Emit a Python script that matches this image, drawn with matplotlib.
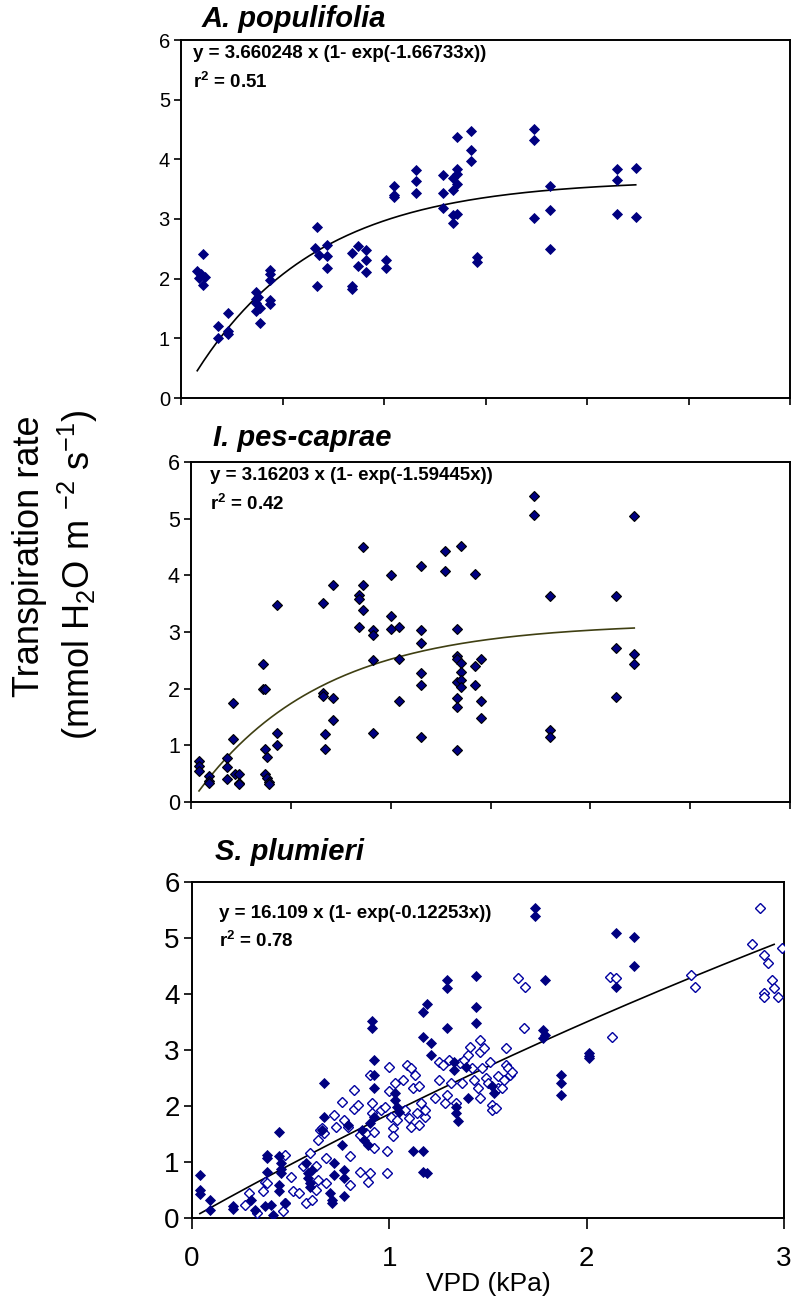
import numpy as np
import matplotlib
matplotlib.use('Agg')
import matplotlib.pyplot as plt

# A. populifolia
pop_x = [0.08, 0.09, 0.10, 0.11, 0.11, 0.12,
         0.18, 0.18, 0.23, 0.23, 0.23,
         0.37, 0.37, 0.37, 0.37, 0.39, 0.39, 0.38,
         0.44, 0.44, 0.44, 0.44, 0.44,
         0.67, 0.66, 0.68, 0.67, 0.72, 0.72, 0.72,
         0.84, 0.84, 0.84, 0.87, 0.87, 0.91, 0.91, 0.91,
         1.01, 1.01, 1.05, 1.05, 1.05,
         1.16, 1.16, 1.16, 1.29, 1.29, 1.29,
         1.34, 1.34, 1.34, 1.34,
         1.36, 1.36, 1.36, 1.36, 1.36,
         1.43, 1.43, 1.43, 1.46, 1.46,
         1.74, 1.74, 1.74, 1.82, 1.82, 1.82,
         2.15, 2.15, 2.15, 2.24, 2.24]
pop_y = [2.13, 2.01, 2.07, 1.89, 2.42, 2.02,
         1.21, 1.01, 1.43, 1.12, 1.08,
         1.78, 1.66, 1.59, 1.46, 1.51, 1.26, 1.70,
         2.15, 2.07, 1.97, 1.65, 1.57,
         2.87, 2.52, 2.40, 1.87, 2.57, 2.38, 2.18,
         2.43, 1.87, 1.82, 2.54, 2.21, 2.48, 2.32, 2.11,
         2.32, 2.18, 3.55, 3.37, 3.41,
         3.82, 3.64, 3.44, 3.73, 3.43, 3.18,
         3.68, 3.48, 3.07, 2.93,
         4.37, 3.84, 3.76, 3.58, 3.09,
         4.48, 4.15, 3.98, 2.36, 2.28,
         4.51, 4.33, 3.02, 3.55, 3.15, 2.49,
         3.83, 3.65, 3.08, 3.86, 3.04]
pop_a, pop_b = 3.660248, 1.66733
pop_range = (0.08, 2.24)

# I. pes-caprae
pes_x = [0.04, 0.04, 0.04, 0.09, 0.09, 0.09,
         0.18, 0.18, 0.18, 0.21, 0.21, 0.22, 0.24, 0.24, 0.24,
         0.36, 0.36, 0.37, 0.37, 0.38, 0.37, 0.38, 0.39, 0.39,
         0.43, 0.43, 0.43,
         0.66, 0.66, 0.66, 0.67, 0.67,
         0.71, 0.71, 0.71,
         0.84, 0.84, 0.84, 0.86, 0.86, 0.86,
         0.91, 0.91, 0.91, 0.91,
         1.00, 1.00, 1.00, 1.04, 1.04, 1.04,
         1.15, 1.15, 1.15, 1.15, 1.15, 1.15,
         1.27, 1.27,
         1.33, 1.33, 1.33, 1.33, 1.33, 1.33, 1.33,
         1.35, 1.35, 1.35, 1.35, 1.35,
         1.42, 1.42, 1.42, 1.45, 1.45, 1.45,
         1.72, 1.72, 1.80, 1.80, 1.80,
         2.13, 2.13, 2.13, 2.22, 2.22, 2.22]
pes_y = [0.72, 0.64, 0.55, 0.46, 0.37, 0.34,
         0.78, 0.61, 0.40, 1.75, 1.11, 0.49, 0.49, 0.34, 0.31,
         2.43, 2.00, 1.99, 0.94, 0.79, 0.49, 0.43, 0.36, 0.31,
         3.48, 1.22, 1.00,
         3.52, 1.93, 1.87, 1.20, 0.94,
         3.83, 1.84, 1.44,
         3.66, 3.59, 3.09, 4.50, 3.83, 3.38,
         3.04, 2.95, 2.51, 1.21,
         4.00, 3.29, 3.05, 3.09, 2.52, 1.78,
         4.16, 3.04, 2.80, 2.28, 2.06, 1.14,
         4.43, 4.08,
         3.06, 2.58, 2.52, 2.12, 1.84, 1.68, 0.91,
         4.51, 2.46, 2.29, 2.15, 2.03,
         4.02, 2.40, 2.06, 2.52, 1.78, 1.48,
         5.40, 5.07, 3.63, 1.27, 1.14,
         3.63, 2.71, 1.85, 5.04, 2.61, 2.43]
pes_a, pes_b = 3.16203, 1.59445
pes_range = (0.04, 2.22)

# S. plumieri, filled symbols
plf_x = [0.04, 0.04, 0.04, 0.09, 0.09, 0.21, 0.21, 0.30, 0.32, 0.37,
         0.38, 0.38, 0.38, 0.41, 0.40, 0.44, 0.44, 0.45, 0.45, 0.45,
         0.44, 0.44, 0.47, 0.58, 0.59, 0.59, 0.60, 0.60, 0.61,
         0.67, 0.67, 0.66, 0.70, 0.71, 0.71, 0.72, 0.72,
         0.76, 0.77, 0.77, 0.77, 0.79, 0.86, 0.87, 0.89, 0.90,
         0.91, 0.91, 0.92, 0.92, 0.92, 0.92,
         1.03, 1.03, 1.04, 1.05, 1.12, 1.17, 1.17, 1.17, 1.17,
         1.19, 1.19, 1.21, 1.21, 1.29, 1.29, 1.29,
         1.33, 1.33, 1.34, 1.34, 1.35, 1.44, 1.44, 1.44, 1.39, 1.40,
         1.52, 1.53, 1.78, 1.78, 1.79, 1.79, 1.74, 1.74,
         1.87, 1.87, 1.87, 2.01, 2.01, 2.01, 2.15, 2.15, 2.24, 2.24]
plf_y = [0.76, 0.50, 0.42, 0.33, 0.15, 0.21, 0.16, 0.33, 0.15, 0.21,
         1.13, 1.07, 0.82, 0.06, 0.24, 1.53, 1.11, 0.98, 0.87, 0.80,
         0.59, 0.48, 0.27, 0.98, 0.80, 0.71, 0.56, 0.62, 0.86,
         1.80, 2.41, 1.57, 0.45, 0.33, 0.27, 0.98, 0.77,
         1.31, 0.86, 0.71, 0.39, 1.66, 1.57, 1.40, 1.31, 1.69,
         3.51, 3.39, 2.82, 2.55, 2.32, 1.81,
         2.23, 2.11, 1.99, 1.90, 1.19, 3.68, 3.24, 1.19, 0.83,
         0.80, 3.83, 2.91, 3.12, 4.25, 4.10, 3.39,
         2.79, 2.64, 1.99, 1.87, 1.73, 4.33, 3.77, 3.48, 2.70, 2.14,
         2.35, 2.23, 3.36, 3.21, 3.27, 4.25, 5.54, 5.39,
         2.55, 2.41, 2.20, 2.95, 2.89, 2.85, 5.09, 4.13, 5.02, 4.50]

# S. plumieri, open symbols
plo_x = [0.27, 0.29, 0.36, 0.37, 0.38, 0.33, 0.47, 0.46, 0.47, 0.50,
         0.51, 0.54, 0.56, 0.58, 0.60, 0.61, 0.63, 0.63, 0.64, 0.64,
         0.65, 0.66, 0.67, 0.68, 0.68, 0.72, 0.73, 0.76, 0.77, 0.79,
         0.80, 0.80, 0.82, 0.82, 0.84, 0.85, 0.85, 0.88, 0.89, 0.90,
         0.90, 0.91, 0.91, 0.92, 0.92, 0.96, 0.98, 0.99, 0.99, 1.00,
         1.00, 1.01, 1.02, 1.02, 1.03, 1.04, 1.07, 1.08, 1.09, 1.10,
         1.11, 1.11, 1.12, 1.13, 1.14, 1.15, 1.15, 1.16, 1.18, 1.18,
         1.23, 1.25, 1.25, 1.27, 1.28, 1.29, 1.30, 1.31, 1.34, 1.36,
         1.37, 1.38, 1.40, 1.41, 1.42, 1.43, 1.45, 1.46, 1.46, 1.46,
         1.47, 1.48, 1.49, 1.50, 1.51, 1.52, 1.52, 1.54, 1.55, 1.55,
         1.57, 1.58, 1.59, 1.59, 1.60, 1.61, 1.62, 1.65, 1.68, 1.69,
         2.12, 2.13, 2.15, 2.53, 2.55, 2.84, 2.88, 2.90, 2.92, 2.90,
         2.90, 2.94, 2.95, 2.97, 2.99]
plo_y = [0.24, 0.45, 0.48, 0.65, 0.62, 0.09, 1.13, 0.12, 0.27, 0.74,
         0.48, 0.45, 0.92, 0.27, 1.16, 0.33, 0.92, 0.50, 0.68, 1.40,
         1.57, 1.60, 1.52, 1.07, 0.62, 1.84, 1.63, 2.08, 1.75, 1.63,
         1.10, 0.59, 2.29, 1.94, 2.02, 1.49, 0.83, 1.52, 0.65, 0.80,
         2.55, 2.05, 1.87, 1.54, 1.25, 1.93, 1.99, 1.19, 0.80, 2.70,
         2.26, 1.81, 1.60, 1.46, 2.41, 1.75, 2.47, 1.93, 2.73, 1.78,
         1.63, 2.67, 2.32, 2.55, 1.87, 2.35, 1.66, 2.05, 1.81, 1.93,
         2.14, 2.47, 2.79, 2.73, 2.05, 2.20, 2.82, 2.41, 2.05, 2.76,
         2.41, 2.82, 2.91, 3.06, 2.67, 2.47, 2.32, 3.18, 2.97, 2.14,
         2.67, 3.03, 2.50, 2.41, 2.79, 2.02, 1.93, 1.96, 2.53, 2.32,
         2.32, 2.47, 3.03, 2.73, 2.67, 2.55, 2.61, 4.28, 3.40, 4.13,
         4.31, 3.23, 4.28, 4.34, 4.13, 4.90, 5.53, 4.69, 4.55, 4.01,
         3.95, 4.25, 4.10, 3.95, 4.83]
plu_a, plu_b = 16.109, 0.12253
plu_range = (0.04, 2.95)

W, H = 791, 1301
navy = '#000080'

plt.rcParams['font.family'] = ['Liberation Sans', 'DejaVu Sans']
plt.rcParams['mathtext.fontset'] = 'custom'
plt.rcParams['mathtext.rm'] = 'Liberation Sans'
plt.rcParams['mathtext.it'] = 'Liberation Sans:italic'
plt.rcParams['mathtext.bf'] = 'Liberation Sans:bold'

fig = plt.figure(figsize=(W / 100, H / 100), dpi=100)
fig.patch.set_facecolor('white')


def box(l, t, r, b):
    # pixel box -> figure fractions
    return [l / W, 1 - b / H, (r - l) / W, (b - t) / H]


def ftext(x, y, s, **kw):
    fig.text(x / W, 1 - y / H, s, **kw)


def setup(ax, ysize, xticks, xlabels):
    ax.set_xlim(0, 3)
    ax.set_ylim(0, 6)
    ax.set_yticks(range(7))
    ax.set_xticks(xticks)
    for s in ax.spines.values():
        s.set_linewidth(1.4)
    ax.tick_params(direction='out', length=5, width=1.2, labelsize=ysize, pad=3)
    if not xlabels:
        ax.tick_params(axis='x', labelbottom=False)


def fit(a, b, rng):
    xs = np.linspace(rng[0], rng[1], 200)
    return xs, a * (1 - np.exp(-b * xs))


# panel 1
ax1 = fig.add_axes(box(181, 40, 790, 398))
setup(ax1, 14.5, np.arange(0, 3.01, 0.5), False)
ax1.plot(pop_x, pop_y, 'D', ms=5.6, mfc=navy, mec=navy, mew=0.6, zorder=3)
fx, fy = fit(pop_a, pop_b, pop_range)
ax1.plot(fx, fy, color='black', lw=1.2, zorder=2)

# panel 2
ax2 = fig.add_axes(box(191, 462, 790, 802))
setup(ax2, 15.5, np.arange(0, 3.01, 0.5), False)
ax2.plot(pes_x, pes_y, 'D', ms=5.3, mfc=navy, mec='black', mew=0.8, zorder=3)
fx, fy = fit(pes_a, pes_b, pes_range)
ax2.plot(fx, fy, color='#3f3f12', lw=1.2, zorder=2)

# panel 3
ax3 = fig.add_axes(box(192, 882, 784, 1218))
setup(ax3, 20, [0, 1, 2, 3], True)
ax3.tick_params(axis='x', labelsize=20, length=8, pad=12)
ax3.tick_params(axis='y', labelsize=20, length=6)
ax3.plot(plo_x, plo_y, 'D', ms=5.0, mfc='white', mec='#0000a0', mew=1.0, zorder=3)
ax3.plot(plf_x, plf_y, 'D', ms=5.3, mfc=navy, mec=navy, mew=0.6, zorder=4)
fx, fy = fit(plu_a, plu_b, plu_range)
ax3.plot(fx, fy, color='black', lw=1.2, zorder=2)
ax3.set_xlabel('VPD (kPa)', fontsize=19, labelpad=0)

# titles
tkw = dict(fontsize=21, fontweight='bold', fontstyle='italic', va='center', ha='left')
ftext(202, 19, 'A. populifolia', **tkw)
ftext(213, 438, 'I. pes-caprae', **tkw)
ftext(215, 852, 'S. plumieri', **tkw)

# fit equations
ekw = dict(fontsize=13.5, fontweight='bold', va='center', ha='left')
ftext(193, 53, 'y = 3.660248 x (1- exp(-1.66733x))', **ekw)
ftext(193, 82, r'r$^{\mathbf{2}}$ = 0.51', **ekw)
ftext(210, 476, 'y = 3.16203 x (1- exp(-1.59445x))', **ekw)
ftext(210, 504, r'r$^{\mathbf{2}}$ = 0.42', **ekw)
ftext(219, 913, 'y = 16.109 x (1- exp(-0.12253x))', **ekw)
ftext(219, 941, r'r$^{\mathbf{2}}$ = 0.78', **ekw)

# shared y label
ftext(30, 556, 'Transpiration rate', fontsize=26, rotation=90, ha='center', va='center')
ftext(78, 575, r'(mmol H$_2$O m $^{-2}$ s$^{-1}$)', fontsize=26, rotation=90,
      ha='center', va='center')

plt.savefig('out.png', dpi=100, facecolor='white')
